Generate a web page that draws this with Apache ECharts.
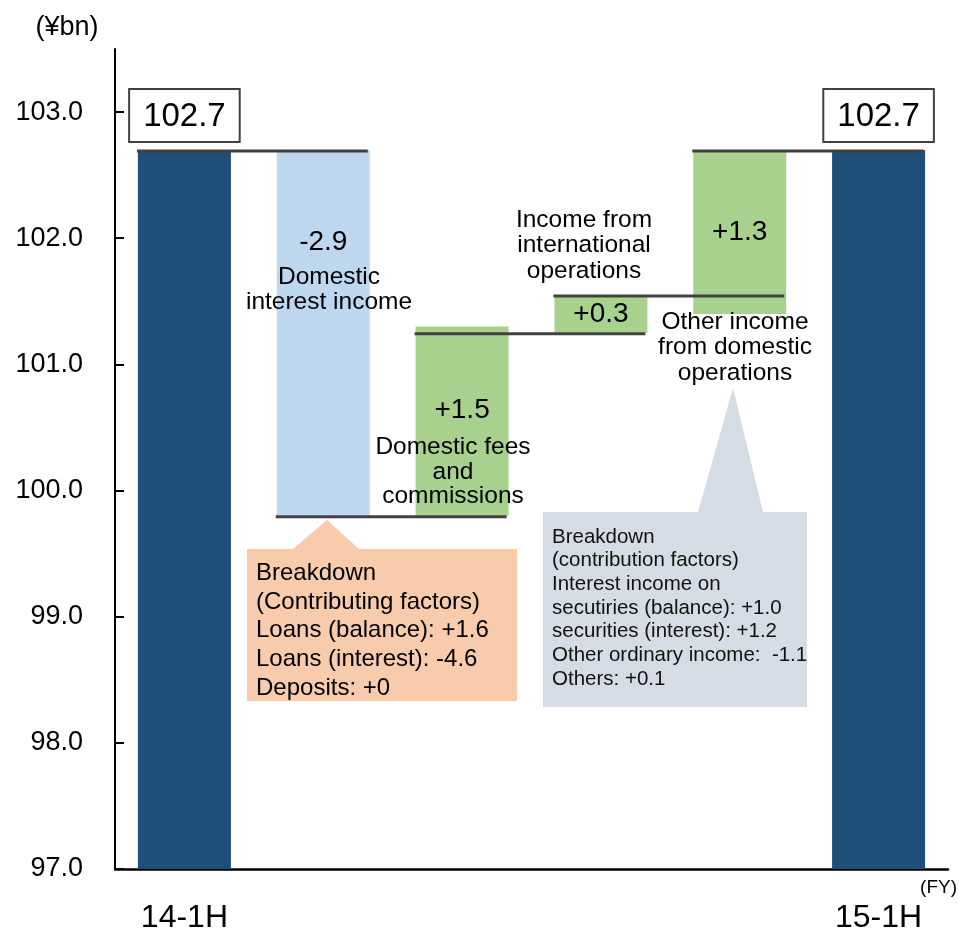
<!DOCTYPE html>
<html>
<head>
<meta charset="utf-8">
<script src="https://cdn.jsdelivr.net/npm/echarts@6/dist/echarts.min.js"></script>
<style>
  html, body { margin: 0; padding: 0; background: #fff; }
  #chart { width: 959px; height: 934px; }
</style>
</head>
<body>
<div id="chart"></div>
<script>
// Ordinary income bridge, 14-1H -> 15-1H (¥bn)
const categories = ['14-1H', 'Domestic interest income', 'Domestic fees and commissions',
  'Income from international operations', 'Other income from domestic operations', '15-1H'];
const totals = [102.7, '-', '-', '-', '-', 102.7];
const changes = [null, -2.9, 1.5, 0.3, 1.3, null];
// floor of each floating bar
const floors = [0, 99.8, 99.8, 101.25, 101.4, 0];
// level of the connector line joining bar i to bar i+1
const connectorLevels = [102.7, 99.8, 101.25, 101.55, 102.7];
const yTicks = [97, 98, 99, 100, 101, 102, 103];

const decreases = changes.map(c => (c !== null && c < 0) ? Math.abs(c) : '-');
const increases = changes.map(c => (c !== null && c > 0) ? c : '-');
const fmtChange = c => (c > 0 ? '+' : '') + c.toFixed(1);

const FONT = "'Liberation Sans', Arial, sans-serif";
const BAR_W = 93;

const chart = echarts.init(document.getElementById('chart'), null, { renderer: 'canvas' });

const increaseLabel = (idx) => {
  if (idx === 2) return { position: 'insideTop', distance: 70 };
  return { position: 'inside' };
};

const option = {
  backgroundColor: '#fff',
  animation: false,
  grid: { left: 115, right: 11, top: 49, bottom: 63 },
  xAxis: {
    type: 'category',
    data: categories,
    axisLine: { lineStyle: { color: '#000', width: 2.5 } },
    axisTick: { show: false },
    axisLabel: {
      interval: 0,
      margin: 33,
      fontSize: 32,
      fontFamily: FONT,
      color: '#000',
      formatter: (v, i) => (i === 0 || i === categories.length - 1) ? v : ''
    }
  },
  yAxis: {
    type: 'value',
    min: 97,
    max: 103.5,
    interval: 1,
    splitLine: { show: false },
    axisLine: { show: true, lineStyle: { color: '#000', width: 2 } },
    axisTick: { show: true, inside: true, length: 9, customValues: yTicks, lineStyle: { color: '#000', width: 2 } },
    axisLabel: {
      customValues: yTicks,
      margin: 32,
      fontSize: 27,
      fontFamily: FONT,
      color: '#000',
      formatter: v => v.toFixed(1)
    }
  },
  series: [
    {
      name: 'floor',
      type: 'bar',
      stack: 'w',
      barWidth: BAR_W,
      itemStyle: { color: 'transparent' },
      emphasis: { disabled: true },
      silent: true,
      data: floors
    },
    {
      name: 'Ordinary income',
      type: 'bar',
      stack: 'w',
      barWidth: BAR_W,
      itemStyle: { color: '#1F4E79' },
      label: {
        show: true,
        position: 'top',
        distance: 9,
        fontSize: 33,
        fontFamily: FONT,
        color: '#000',
        backgroundColor: '#fff',
        borderColor: '#404040',
        borderWidth: 2,
        padding: [10, 13, 8, 13],
        formatter: p => Number(p.value).toFixed(1)
      },
      data: totals
    },
    {
      name: 'Decrease',
      type: 'bar',
      stack: 'w',
      barWidth: BAR_W,
      itemStyle: { color: '#BDD7EE' },
      label: {
        show: true,
        position: 'insideTop',
        distance: 78,
        fontSize: 28,
        fontFamily: FONT,
        color: '#000',
        formatter: p => fmtChange(changes[p.dataIndex])
      },
      data: decreases
    },
    {
      name: 'Increase',
      type: 'bar',
      stack: 'w',
      barWidth: BAR_W,
      itemStyle: { color: '#A9D18E' },
      data: increases.map((v, i) => v === '-' ? v : {
        value: v,
        label: Object.assign({
          show: true,
          fontSize: 28,
          fontFamily: FONT,
          color: '#000',
          formatter: p => fmtChange(changes[p.dataIndex])
        }, increaseLabel(i))
      })
    },
    {
      name: 'connectors',
      type: 'custom',
      silent: true,
      z: 5,
      data: connectorLevels.map((v, i) => [i, v]),
      renderItem: (params, api) => {
        const i = api.value(0);
        const v = api.value(1);
        const a = api.coord([i, v]);
        const b = api.coord([i + 1, v]);
        return {
          type: 'line',
          shape: { x1: a[0] - BAR_W / 2 - 1, y1: a[1] + 1, x2: b[0] + BAR_W / 2 - 2, y2: b[1] + 1 },
          style: { stroke: '#404040', lineWidth: 3 }
        };
      }
    }
  ],
  graphic: [
    { type: 'text', z: 100, style: { text: '(¥bn)', x: 67, y: 28, textAlign: 'center', textVerticalAlign: 'middle', font: '27px ' + FONT, fill: '#000' } },
    { type: 'text', z: 100, style: { text: '(FY)', x: 957, y: 888, textAlign: 'right', textVerticalAlign: 'middle', font: '19px ' + FONT, fill: '#000' } },

    { type: 'text', z: 100, style: { text: 'Domestic\ninterest income', x: 329, y: 265, textAlign: 'center', textVerticalAlign: 'top', font: '24.5px ' + FONT, lineHeight: 25, fill: '#000' } },
    { type: 'text', z: 100, style: { text: 'Domestic fees\nand\ncommissions', x: 453, y: 435, textAlign: 'center', textVerticalAlign: 'top', font: '24.5px ' + FONT, lineHeight: 24.5, fill: '#000' } },
    { type: 'text', z: 100, style: { text: 'Income from\ninternational\noperations', x: 584, y: 207, textAlign: 'center', textVerticalAlign: 'top', font: '24.5px ' + FONT, lineHeight: 25.5, fill: '#000' } },
    { type: 'text', z: 100, style: { text: 'Other income\nfrom domestic\noperations', x: 735, y: 309, textAlign: 'center', textVerticalAlign: 'top', font: '24.5px ' + FONT, lineHeight: 25.5, fill: '#000' } },

    // callout for domestic interest income
    { type: 'polygon', z: 90, shape: { points: [[247, 549], [293, 549], [327, 520], [359, 549], [517, 549], [517, 701], [247, 701]] }, style: { fill: '#F8CBAD' } },
    { type: 'text', z: 100, style: {
      text: 'Breakdown\n(Contributing factors)\nLoans (balance): +1.6\nLoans (interest): -4.6\nDeposits: +0',
      x: 256, y: 559, textAlign: 'left', textVerticalAlign: 'top', font: '24px ' + FONT, lineHeight: 28.7, fill: '#000' } },

    // callout for other income from domestic operations
    { type: 'polygon', z: 90, shape: { points: [[543, 512], [698, 512], [733, 388], [763, 512], [807, 512], [807, 707], [543, 707]] }, style: { fill: '#D6DCE5' } },
    { type: 'text', z: 100, style: {
      text: 'Breakdown\n(contribution factors)\nInterest income on\nsecutiries (balance): +1.0\nsecurities (interest): +1.2\nOther ordinary income:  -1.1\nOthers: +0.1',
      x: 552, y: 525, textAlign: 'left', textVerticalAlign: 'top', font: '20.5px ' + FONT, lineHeight: 23.7, fill: '#111' } }
  ]
};

chart.setOption(option);
</script>
</body>
</html>
